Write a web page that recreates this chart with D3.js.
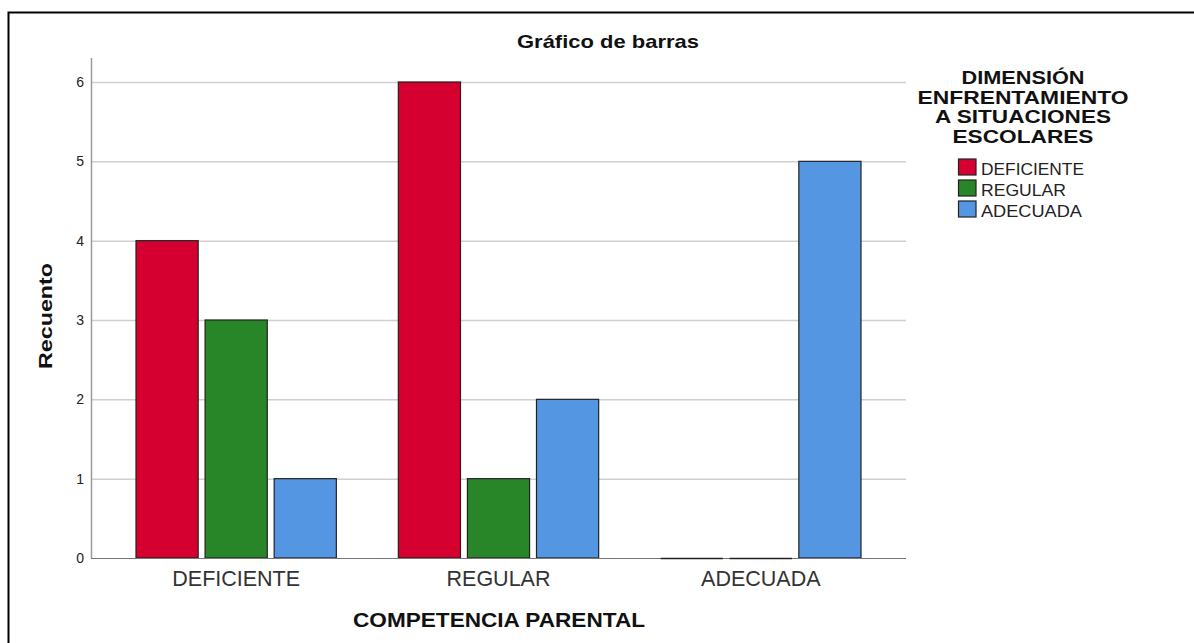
<!DOCTYPE html>
<html><head><meta charset="utf-8">
<script src="https://cdn.jsdelivr.net/npm/d3@7"></script>
<style>body{margin:0;background:#fff;} svg{display:block;font-family:"Liberation Sans",Arial,sans-serif;}</style>
</head><body>
<svg id="c" width="1194" height="643"></svg>
<script>
const categories = ["DEFICIENTE", "REGULAR", "ADECUADA"];
const seriesNames = ["DEFICIENTE", "REGULAR", "ADECUADA"];
const deficienteValues = [4, 6, 0];
const regularValues = [3, 1, 0];
const adecuadaValues = [1, 2, 5];
const yTicks = [0, 1, 2, 3, 4, 5, 6];
const colors = ["#d5002f", "#288628", "#5596e3"];
const legendTitle = ["DIMENSIÓN", "ENFRENTAMIENTO", "A SITUACIONES", "ESCOLARES"];

const legendTitleWidths = [123, 211, 176, 141];
const legendItemWidths = [103, 85, 101];

const seriesValues = [deficienteValues, regularValues, adecuadaValues];
const svg = d3.select("#c");

// outer border
svg.append("rect").attr("x", 8.5).attr("y", 12.5).attr("width", 1300).attr("height", 700)
  .attr("fill", "none").attr("stroke", "#000").attr("stroke-width", 2);

const axisLeft = 91, axisRight = 906, yTop = 58, yBase = 558;
const y = d3.scaleLinear().domain([0, 6]).range([yBase, 82]);
const x0 = d3.scaleBand().domain(categories).range([105, 892]).paddingInner(0).paddingOuter(0);
const x1 = d3.scaleBand().domain(seriesNames).range([31, x0.bandwidth() - 31]).paddingInner(0.1).paddingOuter(0);

// gridlines
svg.append("g").selectAll("line").data(yTicks.filter(d => d > 0)).join("line")
  .attr("x1", axisLeft).attr("x2", axisRight)
  .attr("y1", d => y(d) + 0.5).attr("y2", d => y(d) + 0.5)
  .attr("stroke", "#d0d0d0").attr("stroke-width", 1.5);

// axes
svg.append("line").attr("x1", axisLeft + 0.5).attr("x2", axisLeft + 0.5).attr("y1", yTop).attr("y2", yBase)
  .attr("stroke", "#9a9a9a").attr("stroke-width", 1.5);
const yAxis = d3.axisLeft(y).tickValues(yTicks).tickSize(0).tickPadding(7).tickFormat(d3.format("d"));
const gy = svg.append("g").attr("transform", `translate(${axisLeft},0)`).call(yAxis);
gy.select(".domain").remove();
gy.selectAll("text").attr("font-size", 14).attr("fill", "#222").attr("font-family", "Liberation Sans, Arial, sans-serif");

// bars
const data = [];
categories.forEach((c, i) => seriesNames.forEach((s, j) => data.push({c, s, j, v: seriesValues[j][i]})));
svg.append("g").selectAll("rect").data(data).join("rect")
  .attr("x", d => x0(d.c) + x1(d.s))
  .attr("y", d => y(d.v))
  .attr("width", x1.bandwidth())
  .attr("height", d => yBase - y(d.v))
  .attr("fill", d => colors[d.j])
  .attr("stroke", "#222").attr("stroke-width", 1.2);

// baseline
svg.append("line").attr("x1", axisLeft).attr("x2", axisRight).attr("y1", yBase + 0.5).attr("y2", yBase + 0.5)
  .attr("stroke", "#777").attr("stroke-width", 1.2);
// zero bars as dark lines
svg.append("g").selectAll("line").data(data.filter(d => d.v === 0)).join("line")
  .attr("x1", d => x0(d.c) + x1(d.s)).attr("x2", d => x0(d.c) + x1(d.s) + x1.bandwidth())
  .attr("y1", yBase + 0.5).attr("y2", yBase + 0.5).attr("stroke", "#222").attr("stroke-width", 1.5);

// x axis labels
const xAxis = d3.axisBottom(x0).tickSize(0).tickPadding(12);
const gx = svg.append("g").attr("transform", `translate(0,${yBase})`).call(xAxis);
gx.select(".domain").remove();
gx.selectAll("text").attr("font-size", 21.5).attr("fill", "#333").attr("dy", null).attr("y", 27.5)
  .attr("font-family", "Liberation Sans, Arial, sans-serif");

// titles
svg.append("text").attr("x", 608).attr("y", 48).attr("text-anchor", "middle")
  .attr("font-size", 17.7).attr("font-weight", "bold").attr("fill", "#111")
  .attr("textLength", 182).attr("lengthAdjust", "spacingAndGlyphs").text("Gráfico de barras");
svg.append("text").attr("transform", "translate(52,316) rotate(-90)").attr("text-anchor", "middle")
  .attr("font-size", 18).attr("font-weight", "bold").attr("fill", "#111")
  .attr("textLength", 106).attr("lengthAdjust", "spacingAndGlyphs").text("Recuento");
svg.append("text").attr("x", 499).attr("y", 627).attr("text-anchor", "middle")
  .attr("font-size", 19.5).attr("font-weight", "bold").attr("fill", "#111")
  .attr("textLength", 292).attr("lengthAdjust", "spacingAndGlyphs").text("COMPETENCIA PARENTAL");

// legend
const lg = svg.append("g");
lg.selectAll("text.t").data(legendTitle).join("text").attr("class", "t")
  .attr("x", 1023).attr("y", (d, i) => 84 + i * 19.5).attr("text-anchor", "middle")
  .attr("font-size", 18.5).attr("font-weight", "bold").attr("fill", "#111")
  .attr("textLength", (d, i) => legendTitleWidths[i]).attr("lengthAdjust", "spacingAndGlyphs").text(d => d);
const items = lg.selectAll("g.i").data(seriesNames).join("g").attr("class", "i")
  .attr("transform", (d, i) => `translate(958,${158.5 + i * 21})`);
items.append("rect").attr("x", 0.5).attr("y", 0.5).attr("width", 17.5).attr("height", 16)
  .attr("fill", (d, i) => colors[i]).attr("stroke", "#222").attr("stroke-width", 1.2);
items.append("text").attr("x", 23).attr("y", 16.5).attr("font-size", 16.3).attr("fill", "#222")
  .attr("textLength", (d, i) => legendItemWidths[i]).attr("lengthAdjust", "spacingAndGlyphs").text(d => d);
</script>
</body></html>
